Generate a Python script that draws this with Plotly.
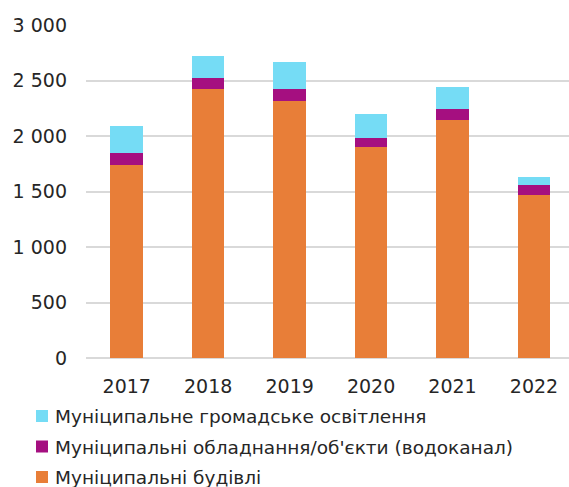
import plotly.graph_objects as go

years = ["2017", "2018", "2019", "2020", "2021", "2022"]
buildings = [1736, 2421, 2319, 1898, 2148, 1466]
water = [115, 102, 102, 88, 99, 90]
lighting = [240, 195, 246, 210, 192, 72]

names = [
    "Муніципальні будівлі",
    "Муніципальні обладнання/об'єкти (водоканал)",
    "Муніципальне громадське освітлення",
]
colors = ["#E87E38", "#A50F80", "#75DCF5"]
series = [buildings, water, lighting]

FONT = "DejaVu Sans"
TEXT = "#262626"

# plot area geometry (px) used for the hand-built legend below
W, H = 569, 487
ML, MR, MT, MB = 86, 0, 25, 129
PW, PH = W - ML - MR, H - MT - MB


def px_x(px):
    return (px - ML) / PW


def px_y(py):
    return (H - MB - py) / PH


fig = go.Figure()
for name, vals, col in zip(names, series, colors):
    fig.add_trace(go.Bar(
        x=years, y=vals, name=name, marker_color=col,
        marker_line_width=0, showlegend=False,
    ))

# legend: top entry is the top of the stack
shapes, annotations = [], []
for row, idx in enumerate([2, 1, 0]):
    cy = 416 + row * 30.5
    shapes.append(dict(
        type="rect", xref="paper", yref="paper",
        x0=px_x(36), x1=px_x(48), y0=px_y(cy - 6), y1=px_y(cy + 6),
        fillcolor=colors[idx], line_width=0, layer="above",
    ))
    annotations.append(dict(
        xref="paper", yref="paper", x=px_x(53), y=px_y(cy + 0.5),
        xanchor="left", yanchor="middle", showarrow=False,
        text=names[idx], font=dict(family=FONT, size=18.5, color=TEXT),
    ))

fig.update_layout(
    width=W, height=H,
    barmode="stack", bargap=0.6,
    plot_bgcolor="white", paper_bgcolor="white",
    margin=dict(l=ML, r=MR, t=MT, b=MB, autoexpand=False),
    separators=", ",
    font=dict(family=FONT, size=19, color=TEXT),
    showlegend=False,
    shapes=shapes, annotations=annotations,
    xaxis=dict(
        range=[-0.5, 5.43], showgrid=False, showline=False,
        ticks="", ticklabelstandoff=15,
        tickfont=dict(size=19),
    ),
    yaxis=dict(
        range=[0, 3000], dtick=500, tickformat=",d",
        showgrid=True, gridcolor="#D9D9D9", gridwidth=2,
        zeroline=True, zerolinecolor="#D9D9D9", zerolinewidth=2,
        showline=False, ticks="", ticklabelstandoff=18,
        tickfont=dict(size=19),
    ),
)

fig.write_html("out.html")
